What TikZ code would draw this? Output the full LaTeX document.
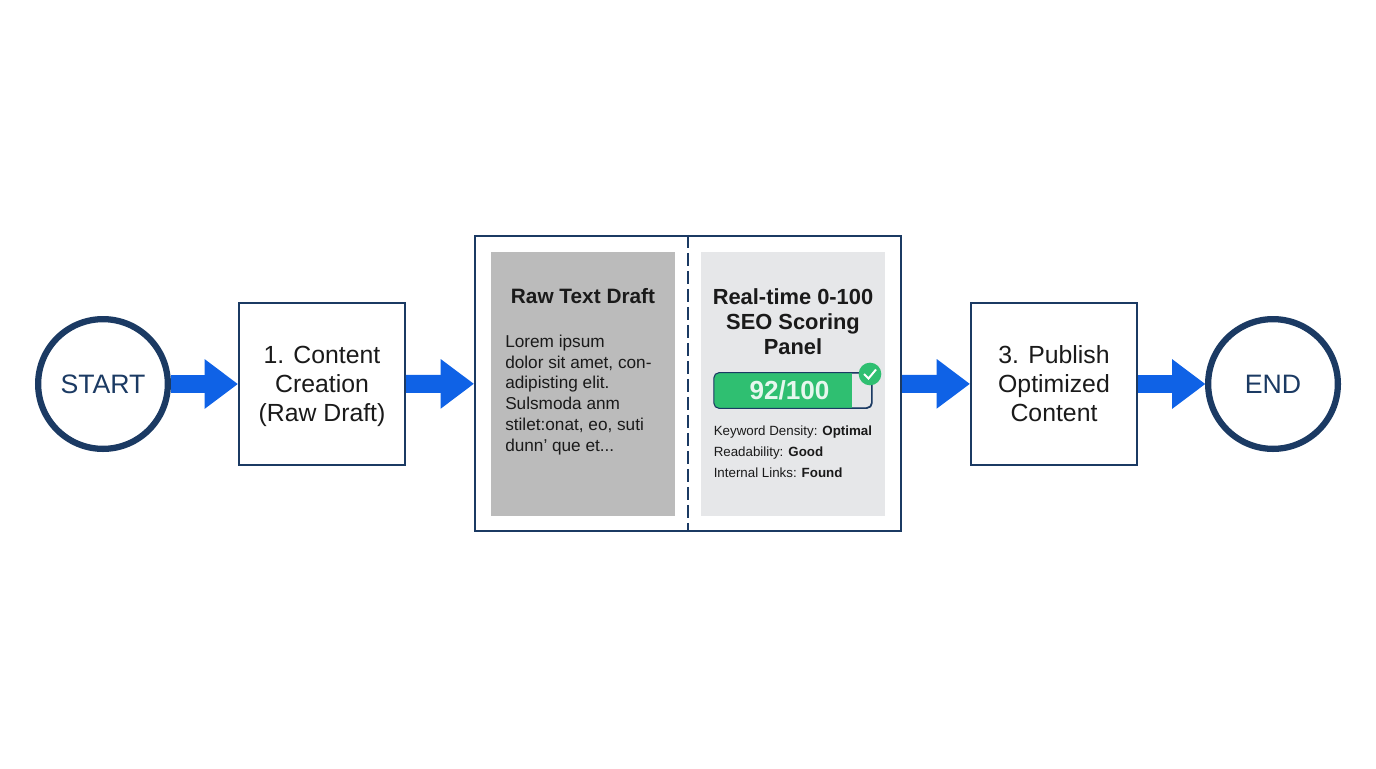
\documentclass[tikz,border=0pt]{standalone}
\usepackage{fontspec}
\setmainfont{Liberation Sans}
\usetikzlibrary{arrows.meta}
\definecolor{navy}{HTML}{1B3A63}
\definecolor{flowblue}{HTML}{0F62E6}
\definecolor{rawgray}{HTML}{BBBBBB}
\definecolor{seogray}{HTML}{E6E7E9}
\definecolor{scoregreen}{HTML}{2FBF71}
\definecolor{inkdark}{HTML}{1A1A1A}
\tikzset{
  endpoint/.style={circle, draw=navy, line width=4.7pt, inner sep=0pt, outer sep=2pt, minimum size=97.3pt, text=navy, font=\fontsize{20}{24}\selectfont},
  stepbox/.style={draw=navy, line width=1.5pt, inner sep=0pt, minimum width=124.5pt, minimum height=121.5pt, align=center, text=inkdark, font=\fontsize{18.6}{21.75}\selectfont},
  panel/.style={inner sep=0pt, minimum width=138pt, minimum height=198pt},
  paneltitle/.style={align=center, text=inkdark, inner sep=0pt, font=\fontsize{15.6}{18.8}\selectfont\bfseries},
  flowarrow/.style={color=flowblue, line width=13.5pt, -{Triangle[length=25pt, width=35.5pt]}}
}
\begin{document}
\begin{tikzpicture}[x=0.75pt, y=-0.75pt]
    \useasboundingbox (0, 0) rectangle (1376, 768);
    \node[endpoint] (start) at (103, 384) {START};
    \node[stepbox] (content) at (322, 384) {\rule{0pt}{17.3pt}1. Content\\Creation\\(Raw Draft)};
    \node[draw=navy, line width=1.5pt, inner sep=0pt, minimum width=319.5pt, minimum height=221.5pt] (frame) at (688, 383.5) {};
    \node[panel, fill=rawgray] (raw) at (583, 384) {};
    \node[panel, fill=seogray] (seo) at (793, 384) {};
    \draw[navy, line width=1.5pt, dash pattern=on 9.5pt off 4pt] (frame.north) -- (frame.south);
    \node[paneltitle] (rawtitle) at (583, 296.5) {Raw Text Draft};
    \node[anchor=north west, align=left, inner sep=0pt, text=inkdark, font=\fontsize{12.9}{15.6}\selectfont] (lorem) at (505, 334.5) {Lorem ipsum\\dolor sit amet, con-\\adipisting elit.\\Sulsmoda anm\\stilet:onat, eo, suti\\dunn' que et...};
    \node[paneltitle, font=\fontsize{16.4}{18.8}\selectfont\bfseries] (seotitle) at (793, 321.5) {Real-time 0-100\\SEO Scoring\\Panel};
    \node[draw=navy, line width=0.8pt, rounded corners=4pt, fill=seogray, inner sep=0pt, minimum width=118pt, minimum height=26pt] (bar) at (793, 390.5) {};
    \begin{scope}
      \clip[rounded corners=4pt] (bar.south west) rectangle (bar.north east);
      \fill[scoregreen] (bar.south west) rectangle (852, 373);
    \end{scope}
    \draw[navy, line width=0.8pt, rounded corners=4pt] (bar.south west) rectangle (bar.north east);
    \node[text=white!88!scoregreen, inner sep=0pt, font=\fontsize{19.6}{22}\selectfont\bfseries] (score) at (789.5, 390.5) {92/100};
    \node[circle, fill=scoregreen, inner sep=0pt, minimum size=17pt] (badge) at (870, 374) {};
    \draw[white, line width=1.5pt] ([shift={(-6, 0)}]badge.center) -- ([shift={(-1.5, 4.5)}]badge.center) -- ([shift={(6, -4.5)}]badge.center);
    \node[anchor=north west, align=left, inner sep=0pt, text=inkdark, font=\fontsize{10}{15.4}\selectfont] (metrics) at (713.5, 426) {Keyword Density: \textbf{Optimal}\\Readability: \textbf{Good}\\Internal Links: \textbf{Found}};
    \node[stepbox] (publish) at (1054, 384) {3. Publish\\Optimized\\Content};
    \node[endpoint] (end) at (1273, 384) {END};
    \path[flowarrow]
    (start) edge (content)
    (content) edge (frame)
    (frame) edge (publish)
    (publish) edge (end);
\end{tikzpicture}
\end{document}
